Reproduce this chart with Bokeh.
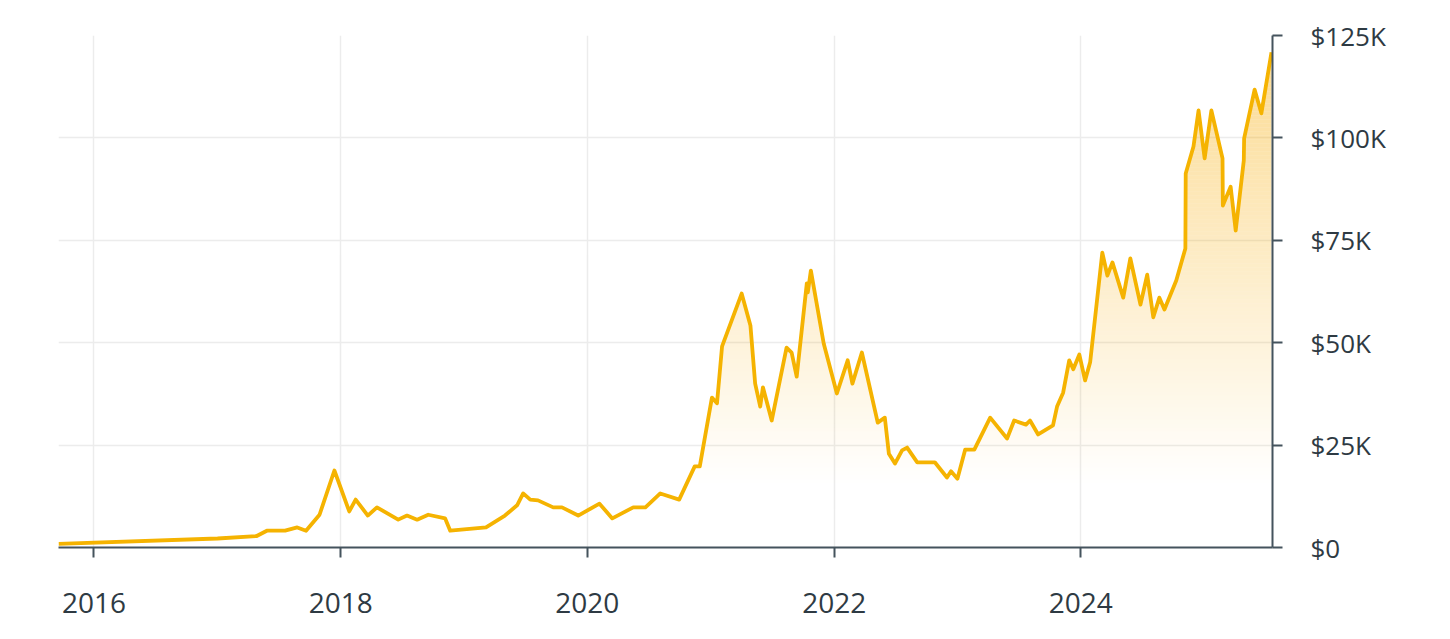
import numpy as np
import pandas as pd
from bokeh.plotting import figure
from bokeh.models import Range1d, FixedTicker, DatetimeTickFormatter
from bokeh.embed import file_html
from bokeh.resources import INLINE

# ---- data ----
dates = [
    "2015-09-18", "2017-01-01", "2017-04-27", "2017-05-27", "2017-07-20", "2017-08-25",
    "2017-09-20", "2017-10-30", "2017-12-13", "2018-01-26", "2018-02-14", "2018-03-22",
    "2018-04-18", "2018-06-20", "2018-07-16", "2018-08-15", "2018-09-17", "2018-11-06",
    "2018-11-21", "2019-03-07", "2019-05-02", "2019-06-07", "2019-06-25", "2019-07-16",
    "2019-08-08", "2019-09-22", "2019-10-18", "2019-12-05", "2020-02-06", "2020-03-15",
    "2020-05-16", "2020-06-21", "2020-08-04", "2020-09-29", "2020-11-14", "2020-11-29",
    "2021-01-04", "2021-01-19", "2021-02-03", "2021-04-02", "2021-04-28", "2021-05-12",
    "2021-05-27", "2021-06-04", "2021-06-30", "2021-08-13", "2021-08-28", "2021-09-12",
    "2021-10-12", "2021-10-15", "2021-10-24", "2021-12-01", "2022-01-09", "2022-02-10",
    "2022-02-24", "2022-03-24", "2022-05-10", "2022-05-31", "2022-06-12", "2022-06-30",
    "2022-07-21", "2022-08-05", "2022-09-04", "2022-10-26", "2022-12-01", "2022-12-13",
    "2023-01-01", "2023-01-24", "2023-02-20", "2023-04-08", "2023-05-28", "2023-06-18",
    "2023-07-23", "2023-08-04", "2023-08-28", "2023-10-11", "2023-10-23", "2023-11-10",
    "2023-11-28", "2023-12-10", "2023-12-28", "2024-01-14", "2024-01-29", "2024-03-05",
    "2024-03-20", "2024-04-04", "2024-05-06", "2024-05-27", "2024-06-26", "2024-07-16",
    "2024-08-03", "2024-08-21", "2024-09-05", "2024-10-10", "2024-11-06", "2024-11-07",
    "2024-11-30", "2024-12-15", "2025-01-02", "2025-01-22", "2025-02-24", "2025-02-25",
    "2025-03-20", "2025-04-04", "2025-04-28", "2025-04-29", "2025-05-30", "2025-06-19",
    "2025-07-19",
]
price_k = [
    0.9, 2.2, 2.8, 4.1, 4.1, 4.9,
    4.1, 8.0, 18.8, 8.8, 11.7, 7.8,
    9.8, 6.8, 7.8, 6.8, 8.0, 7.1,
    4.1, 4.9, 7.8, 10.3, 13.2, 11.7,
    11.5, 9.8, 9.8, 7.8, 10.7, 7.1,
    9.8, 9.8, 13.2, 11.7, 19.8, 19.8,
    36.6, 35.2, 49.1, 62.0, 54.2, 40.0,
    34.4, 39.1, 31.0, 48.8, 47.6, 41.7,
    64.5, 62.3, 67.6, 49.8, 37.6, 45.7,
    40.0, 47.6, 30.5, 31.7, 22.9, 20.5,
    23.7, 24.4, 20.8, 20.8, 17.1, 18.6,
    16.8, 23.9, 23.9, 31.7, 26.6, 31.0,
    30.0, 31.0, 27.6, 29.8, 34.4, 37.8,
    45.7, 43.5, 47.1, 40.8, 45.2, 72.0,
    66.4, 69.6, 61.0, 70.6, 59.3, 66.6,
    56.2, 61.0, 58.1, 65.2, 73.0, 91.3,
    97.9, 106.7, 95.0, 106.7, 95.0, 83.5,
    88.1, 77.4, 94.5, 99.9, 111.8, 106.0,
    120.9,
]
x_tick_years = [2016, 2018, 2020, 2022, 2024]
y_ticks = [0, 25000, 50000, 75000, 100000, 125000]
y_tick_labels = ["$0", "$25K", "$50K", "$75K", "$100K", "$125K"]

# ---- build ----
def to_ms(d):
    return pd.to_datetime(d).values.astype("datetime64[ms]").astype("int64").astype(float)

xs = to_ms(dates)
ys = np.array(price_k) * 1000.0
x_end = to_ms(["2025-07-22"])[0]
year_ms = [float(v) for v in to_ms([f"{y}-01-01" for y in x_tick_years])]

LINE = "#f5b301"
FILL = "#f7ad0a"
AXIS = "#44535d"
TEXT = "#2e3a43"
GRID = "#ececec"

Y_MAX = 125000.0
FRAME_H = 512  # pixel height of the plot frame

p = figure(width=1434, height=623, x_axis_type="datetime", y_axis_location="right",
           x_range=Range1d(xs[0], x_end), y_range=Range1d(0, Y_MAX),
           output_backend="svg", toolbar_location=None,
           min_border_left=58, min_border_right=162, min_border_top=35, min_border_bottom=76)
p.outline_line_color = None
p.background_fill_color = "white"
p.border_fill_color = "white"

# vertical gradient fill under the line: non-overlapping bands aligned to pixel rows,
# each band with its own opacity
band = 4 * Y_MAX / FRAME_H
levels = np.arange(15, 126) * band
def A(v):
    return float(np.clip(0.33 * (v - 15000) / 80000.0, 0, 0.6))
extra = []
for j in range(len(xs) - 1):
    y0, y1 = ys[j], ys[j + 1]
    if y0 == y1:
        continue
    lo, hi = min(y0, y1), max(y0, y1)
    for L in levels[(levels > lo) & (levels < hi)]:
        t = (L - y0) / (y1 - y0)
        extra.append(xs[j] + t * (xs[j + 1] - xs[j]))
allx = np.unique(np.concatenate([xs, np.array(extra)]))
ally = np.interp(allx, xs, ys)
for i in range(len(levels) - 1):
    lo, hi = levels[i], levels[i + 1]
    if ally.max() <= lo:
        break
    a = A(0.5 * (lo + hi))
    if a <= 0:
        continue
    p.varea(x=allx, y1=lo, y2=np.clip(ally, lo, hi), fill_color=FILL, fill_alpha=a)

p.line(xs, ys, line_color=LINE, line_width=3.8, line_join="round")

# axes
xa = p.xaxis[0]
xa.ticker = FixedTicker(ticks=year_ms)
xa.formatter = DatetimeTickFormatter(years="%Y", months="%Y", days="%Y", hours="%Y",
                                     hourmin="%Y", minutes="%Y", minsec="%Y",
                                     seconds="%Y", milliseconds="%Y", microseconds="%Y")
ya = p.yaxis[0]
ya.ticker = FixedTicker(ticks=y_ticks)
ya.major_label_overrides = {t: l for t, l in zip(y_ticks, y_tick_labels)}

for ax in (xa, ya):
    ax.axis_line_color = AXIS
    ax.axis_line_width = 2
    ax.major_tick_line_color = AXIS
    ax.major_tick_line_width = 2
    ax.major_tick_in = 0
    ax.major_tick_out = 10
    ax.minor_tick_line_color = None
    ax.major_label_text_font = "Open Sans"
    ax.major_label_text_color = TEXT
xa.major_label_text_font_size = "28px"
xa.major_label_standoff = 35
ya.major_label_text_font_size = "26px"
ya.major_label_standoff = 28

for g in (p.xgrid[0], p.ygrid[0]):
    g.grid_line_color = GRID
    g.grid_line_width = 1.5

open("out.html", "w").write(file_html(p, INLINE))
